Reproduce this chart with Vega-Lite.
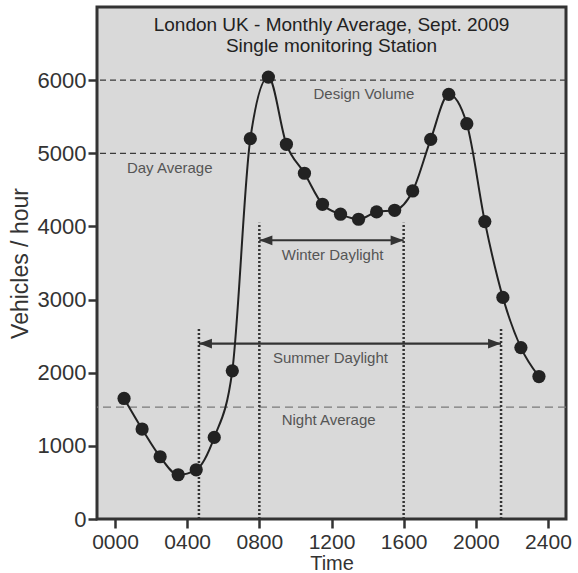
{
  "$schema": "https://vega.github.io/schema/vega-lite/v6.json",
  "width": 469,
  "height": 512,
  "autosize": "none",
  "padding": {"left": 97, "top": 7, "right": 12, "bottom": 54},
  "background": "white",
  "config": {
    "view": {"fill": "#d9d9d9", "stroke": "#333333", "strokeWidth": 3},
    "font": "Liberation Sans",
    "axis": {"grid": false, "domain": false, "tickColor": "#333333", "tickWidth": 2.5, "tickSize": 9, "labelColor": "#333333", "titleColor": "#333333", "labelFont": "Liberation Sans", "titleFont": "Liberation Sans", "titleFontWeight": "normal"}
  },
  "datasets": {
    "traffic": [
      {"t": 50, "v": 1648}, {"t": 150, "v": 1230}, {"t": 250, "v": 851}, {"t": 350, "v": 605},
      {"t": 450, "v": 673}, {"t": 550, "v": 1115}, {"t": 650, "v": 2026}, {"t": 750, "v": 5200},
      {"t": 850, "v": 6042}, {"t": 950, "v": 5123}, {"t": 1050, "v": 4727}, {"t": 1150, "v": 4303},
      {"t": 1250, "v": 4167}, {"t": 1350, "v": 4098}, {"t": 1450, "v": 4198}, {"t": 1550, "v": 4221},
      {"t": 1650, "v": 4485}, {"t": 1750, "v": 5191}, {"t": 1850, "v": 5806}, {"t": 1950, "v": 5404},
      {"t": 2050, "v": 4066}, {"t": 2150, "v": 3030}, {"t": 2250, "v": 2344}, {"t": 2350, "v": 1948}
    ],
    "hlines": [
      {"level": 6000, "kind": "dark"},
      {"level": 5000, "kind": "dark"},
      {"level": 1530, "kind": "light"}
    ],
    "vlines": [
      {"t": 800, "bottom": 0, "top": 4050},
      {"t": 1600, "bottom": 0, "top": 4050},
      {"t": 465, "bottom": 0, "top": 2596},
      {"t": 2140, "bottom": 0, "top": 2596}
    ],
    "arrows": [
      {"from": 800, "to": 1600, "y": 3811},
      {"from": 465, "to": 2140, "y": 2399}
    ],
    "labels": [
      {"t": 1380, "v": 5814, "text": "Design Volume"},
      {"t": 303, "v": 4803, "text": "Day Average"},
      {"t": 1206, "v": 3611, "text": "Winter Daylight"},
      {"t": 1194, "v": 2199, "text": "Summer Daylight"},
      {"t": 1184, "v": 1352, "text": "Night Average"}
    ],
    "titles": [
      {"t": 1200, "v": 6753, "text": "London UK - Monthly Average, Sept. 2009"},
      {"t": 1200, "v": 6466, "text": "Single monitoring Station"}
    ]
  },
  "layer": [
    {
      "data": {"name": "hlines"},
      "transform": [{"filter": "datum.kind == 'dark'"}],
      "mark": {"type": "rule", "color": "#3a3a3a", "strokeWidth": 1.2, "strokeDash": [6, 4]},
      "encoding": {
        "y": {"field": "level", "type": "quantitative", "scale": {"domain": [0, 7000], "nice": false, "zero": true}, "axis": {"values": [0, 1000, 2000, 3000, 4000, 5000, 6000], "format": "d", "labelFontSize": 22, "labelPadding": 2, "title": "Vehicles / hour", "titleFontSize": 23, "titlePadding": 5}}
      }
    },
    {
      "data": {"name": "hlines"},
      "transform": [{"filter": "datum.kind == 'light'"}],
      "mark": {"type": "rule", "color": "#7a7a7a", "strokeWidth": 1.2, "strokeDash": [8, 5]},
      "encoding": {"y": {"field": "level", "type": "quantitative"}}
    },
    {
      "data": {"name": "vlines"},
      "mark": {"type": "rule", "color": "#333333", "strokeWidth": 2.5, "strokeDash": [2, 2]},
      "encoding": {
        "x": {"field": "t", "type": "quantitative", "scale": {"domain": [-100, 2500], "nice": false, "zero": false}, "axis": {"values": [0, 200, 400, 600, 800, 1000, 1200, 1400, 1600, 1800, 2000, 2200, 2400], "format": "04d", "labelExpr": "datum.value % 400 == 0 ? datum.label : ''", "labelFontSize": 21, "labelPadding": 3, "title": "Time", "titleFontSize": 20, "titlePadding": 1}},
        "y": {"field": "bottom", "type": "quantitative"},
        "y2": {"field": "top"}
      }
    },
    {
      "data": {"name": "arrows"},
      "mark": {"type": "rule", "color": "#333333", "strokeWidth": 2.2},
      "encoding": {
        "x": {"field": "from", "type": "quantitative"},
        "x2": {"field": "to"},
        "y": {"field": "y", "type": "quantitative"}
      }
    },
    {
      "data": {"name": "arrows"},
      "mark": {"type": "point", "shape": "M0,0L2,-0.75L2,0.75Z", "filled": true, "color": "#333333", "size": 169, "opacity": 1},
      "encoding": {
        "x": {"field": "from", "type": "quantitative"},
        "y": {"field": "y", "type": "quantitative"}
      }
    },
    {
      "data": {"name": "arrows"},
      "mark": {"type": "point", "shape": "M0,0L-2,-0.75L-2,0.75Z", "filled": true, "color": "#333333", "size": 169, "opacity": 1},
      "encoding": {
        "x": {"field": "to", "type": "quantitative"},
        "y": {"field": "y", "type": "quantitative"}
      }
    },
    {
      "data": {"name": "labels"},
      "mark": {"type": "text", "font": "Liberation Sans", "fontSize": 15, "color": "#555555", "align": "center", "baseline": "middle"},
      "encoding": {
        "x": {"field": "t", "type": "quantitative"},
        "y": {"field": "v", "type": "quantitative"},
        "text": {"field": "text"}
      }
    },
    {
      "data": {"name": "titles"},
      "mark": {"type": "text", "font": "Liberation Sans", "fontSize": 19, "color": "#222222", "align": "center", "baseline": "middle"},
      "encoding": {
        "x": {"field": "t", "type": "quantitative"},
        "y": {"field": "v", "type": "quantitative"},
        "text": {"field": "text"}
      }
    },
    {
      "data": {"name": "traffic"},
      "mark": {"type": "line", "interpolate": "monotone", "color": "#222222", "strokeWidth": 2},
      "encoding": {
        "x": {"field": "t", "type": "quantitative"},
        "y": {"field": "v", "type": "quantitative"}
      }
    },
    {
      "data": {"name": "traffic"},
      "mark": {"type": "point", "shape": "circle", "filled": true, "color": "#222222", "size": 175, "opacity": 1},
      "encoding": {
        "x": {"field": "t", "type": "quantitative"},
        "y": {"field": "v", "type": "quantitative"}
      }
    }
  ]
}
